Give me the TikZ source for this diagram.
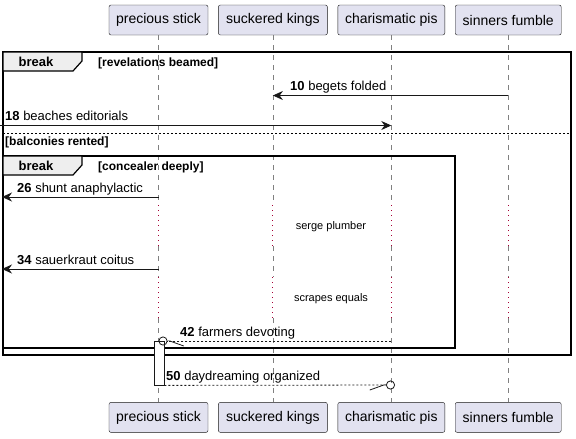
\documentclass[tikz,border=0pt]{standalone}
\usepackage{fontspec}
\setmainfont{Liberation Sans}
\usetikzlibrary{arrows.meta, positioning}
\definecolor{partfill}{HTML}{E2E2F0}
\definecolor{partline}{HTML}{181818}
\definecolor{delayred}{HTML}{A80036}
\definecolor{tabfill}{HTML}{EEEEEE}
\tikzset{
  part/.style={rectangle, draw=partline, fill=partfill, rounded corners=2pt, minimum height=30pt, inner sep=0pt, font=\fontsize{14}{16}\selectfont},
  lifeline/.style={draw=gray, line width=0.6pt, dash pattern=on 5pt off 5pt},
  delayline/.style={draw=delayred, line width=0.9pt, dash pattern=on 1pt off 4pt},
  frame/.style={draw=black, line width=1.5pt},
  tab/.style={draw=black, line width=1.2pt, fill=tabfill},
  sep/.style={draw=black, line width=0.6pt, dash pattern=on 2pt off 2pt},
  tablabel/.style={font=\fontsize{13}{15}\selectfont\bfseries, inner sep=0pt},
  guard/.style={anchor=base west, font=\fontsize{12}{14}\selectfont\bfseries, inner sep=0pt},
  msglabel/.style={anchor=base west, font=\fontsize{13}{15}\selectfont, inner sep=0pt},
  delaytext/.style={font=\fontsize{11}{13}\selectfont, inner sep=0pt},
  msg/.style={draw=partline, line width=0.8pt, -{Stealth[length=10pt, width=9pt]}},
  reply/.style={draw=partline, line width=0.8pt, dash pattern=on 2pt off 2pt},
  actbox/.style={rectangle, draw=partline, fill=white, line width=0.8pt, minimum width=10pt, minimum height=44pt, inner sep=0pt}
}

\begin{document}
\begin{tikzpicture}[x=1pt, y=-1pt]
\useasboundingbox (0,0) rectangle (576,439);

% Participants on top
\node[part, minimum width=99pt] (ps) at (158.5,20) {precious stick};
\node[part, minimum width=109pt, right=10pt of ps] (sk) {suckered kings};
\node[part, minimum width=107pt, right=10pt of sk] (cp) {charismatic pis};
\node[part, minimum width=106pt, right=10pt of cp] (sf) {sinners fumble};

% Participants at the bottom
\node[part, minimum width=99pt, below=367pt of ps] (psb) {precious stick};
\node[part, minimum width=109pt, below=367pt of sk] (skb) {suckered kings};
\node[part, minimum width=107pt, below=367pt of cp] (cpb) {charismatic pis};
\node[part, minimum width=106pt, below=367pt of sf] (sfb) {sinners fumble};

% Delay limits
\coordinate (dly1a) at (0,205);
\coordinate (dly1b) at (0,246);
\coordinate (dly2a) at (0,277);
\coordinate (dly2b) at (0,318);

% Lifelines
\foreach \p/\q in {ps/psb, sk/skb, cp/cpb, sf/sfb} {
  \draw[lifeline] (\p.south) -- (\p.south |- dly1a);
  \draw[delayline] (\p.south |- dly1a) -- (\p.south |- dly1b);
  \draw[lifeline] (\p.south |- dly1b) -- (\p.south |- dly2a);
  \draw[delayline] (\p.south |- dly2a) -- (\p.south |- dly2b);
  \draw[lifeline] (\p.south |- dly2b) -- (\q.north);
}

% Outer break
\draw[frame] (3,52) rectangle (571,355);
\draw[tab] (3,52) -- (82,52) -- (82,61) -- (73,71) -- (3,71) -- cycle;
\node[tablabel] (brk1) at (36,61.5) {break};
\node[guard] (g1) at (98,66) {[revelations beamed]};
\draw[sep] (3,133.5) -- (571,133.5);
\node[guard] (g2) at (5,145) {[balconies rented]};

% Inner break
\draw[frame] (3,156) rectangle (455,348);
\draw[tab] (3,156) -- (82,156) -- (82,165) -- (73,175) -- (3,175) -- cycle;
\node[tablabel] (brk2) at (36,165.5) {break};
\node[guard] (g3) at (98,170) {[concealer deeply]};

% Message rows
\coordinate (m10) at (0,95.5);
\coordinate (l18) at (0,125.5);
\coordinate (l26) at (2,197);
\coordinate (l34) at (2,269);
\coordinate (m42) at (0,341);
\coordinate (e50) at (395,385);

% Activation
\node[actbox] (act) at (159,363) {};

% Messages
\draw[msg] (sf |- m10) -- (sk |- m10);
\draw[msg] (l18) -- (cp |- l18);
\draw[msg] (ps |- l26) -- (l26);
\draw[msg] (ps |- l34) -- (l34);
\draw[reply, -{Straight Barb[left, length=14pt, width=10pt] Circle[open, length=9pt, width=9pt]}] (cp |- m42) -- (ps |- m42);
\draw[reply, -{Straight Barb[right, length=14pt, width=10pt] Circle[open, length=9pt, width=9pt]}] (act.south east) -- (e50);

% Labels
\node[msglabel] (t10) at (290,90.5) {\textbf{10} begets folded};
\node[msglabel] (t18) at (5,120.5) {\textbf{18} beaches editorials};
\node[msglabel] (t26) at (17,192) {\textbf{26} shunt anaphylactic};
\node[msglabel] (t34) at (17,264) {\textbf{34} sauerkraut coitus};
\node[msglabel] (t42) at (180,336) {\textbf{42} farmers devoting};
\node[msglabel] (t50) at (166,380) {\textbf{50} daydreaming organized};
\node[delaytext] (d1) at (331,227) {serge plumber};
\node[delaytext] (d2) at (331,299) {scrapes equals};

\end{tikzpicture}
\end{document}
